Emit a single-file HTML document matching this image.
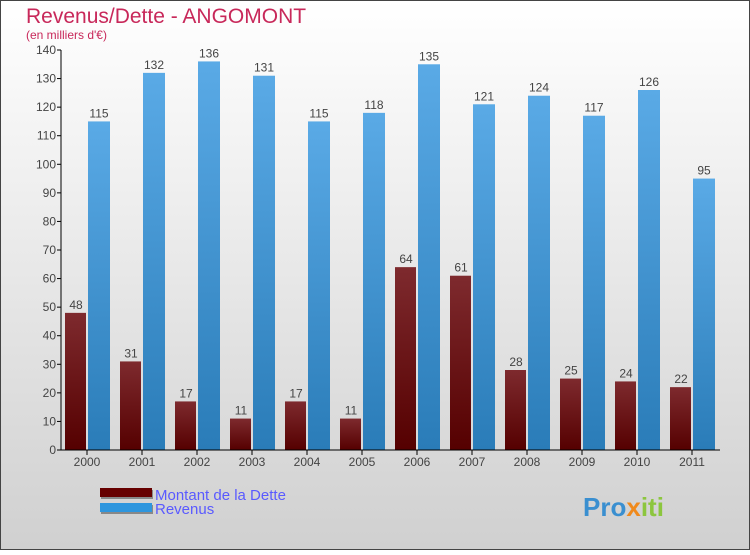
<!DOCTYPE html>
<html><head><meta charset="utf-8"><style>
body{margin:0;width:750px;height:550px;overflow:hidden;font-family:"Liberation Sans",sans-serif}
</style></head><body>
<svg width="750" height="550" xmlns="http://www.w3.org/2000/svg">
<defs>
<linearGradient id="bg" x1="0" y1="0" x2="0" y2="1"><stop offset="0" stop-color="#ffffff"/><stop offset="1" stop-color="#d0d0d0"/></linearGradient>
<linearGradient id="gd" x1="0" y1="0" x2="0" y2="1"><stop offset="0" stop-color="#7e2a2e"/><stop offset="1" stop-color="#550000"/></linearGradient>
<linearGradient id="gr" x1="0" y1="0" x2="0" y2="1"><stop offset="0" stop-color="#5aaae6"/><stop offset="1" stop-color="#2a7cb8"/></linearGradient>
</defs>
<rect x="0.5" y="0.5" width="749" height="549" fill="url(#bg)" stroke="#444"/>
<text x="26" y="23" font-size="21" fill="#c8285a">Revenus/Dette - ANGOMONT</text>
<text x="26" y="39" font-size="12" fill="#c8285a">(en milliers d'€)</text>
<g id="plot"></g>
<g>
<rect x="101" y="490" width="52" height="9" fill="#888"/><rect x="100" y="488" width="52" height="9" fill="#660000"/>
<text x="155" y="500" font-size="15" fill="#5a5aff">Montant de la Dette</text>
<rect x="101" y="505" width="52" height="9" fill="#888"/><rect x="100" y="503" width="52" height="9" fill="#2e96de"/>
<text x="155" y="514" font-size="15" fill="#5a5aff">Revenus</text>
</g>
<text x="583" y="516" font-size="26" font-weight="bold" fill="#3a8fd0"><tspan fill="#3a8fd0">Pro</tspan><tspan fill="#f08a1c">x</tspan><tspan fill="#8cc63e">iti</tspan></text>
</svg>
<script>
const years=["2000","2001","2002","2003","2004","2005","2006","2007","2008","2009","2010","2011"];
const dette=[48,31,17,11,17,11,64,61,28,25,24,22];
const revenus=[115,132,136,131,115,118,135,121,124,117,126,95];
const yTicks=[0,10,20,30,40,50,60,70,80,90,100,110,120,130,140];
const NS="http://www.w3.org/2000/svg";
const g=document.getElementById('plot');
const y=v=>450-v*400/140;
const xc=i=>87+i*55;
function mk(t,a,txt){const e=document.createElementNS(NS,t);for(const k in a)e.setAttribute(k,a[k]);if(txt!==undefined)e.textContent=txt;g.appendChild(e);return e;}
years.forEach((yr,i)=>{
 const d=mk('rect',{x:xc(i)-22,y:y(dette[i]),width:21,height:450-y(dette[i]),fill:'url(#gd)'});
 
 
 const r=mk('rect',{x:xc(i)+1,y:y(revenus[i]),width:22,height:450-y(revenus[i]),fill:'url(#gr)'});
 
 
 const t1=mk('text',{x:xc(i)-11,y:y(dette[i])-4,'font-size':12,fill:'#444','text-anchor':'middle'},dette[i]);
 
 
 const t2=mk('text',{x:xc(i)+12,y:y(revenus[i])-4,'font-size':12,fill:'#444','text-anchor':'middle'},revenus[i]);
 
 
 const tk=mk('line',{x1:xc(i),x2:xc(i),y1:450,y2:455,stroke:'#000'});
 
 
 const xl=mk('text',{x:xc(i),y:466,'font-size':12,fill:'#444','text-anchor':'middle'},yr);
 
 
});
yTicks.forEach(v=>{
 const l=mk('line',{x1:57,x2:61,y1:y(v),y2:y(v),stroke:'#000'});
 
 
 const t=mk('text',{x:56,y:y(v)+4,'font-size':12,fill:'#444','text-anchor':'end'},v);
 
 
});
const ya=mk('line',{x1:61,x2:61,y1:y(140),y2:450,stroke:'#000'});


const xa=mk('line',{x1:61,x2:720,y1:450,y2:450,stroke:'#000'});


</script>
</body></html>
